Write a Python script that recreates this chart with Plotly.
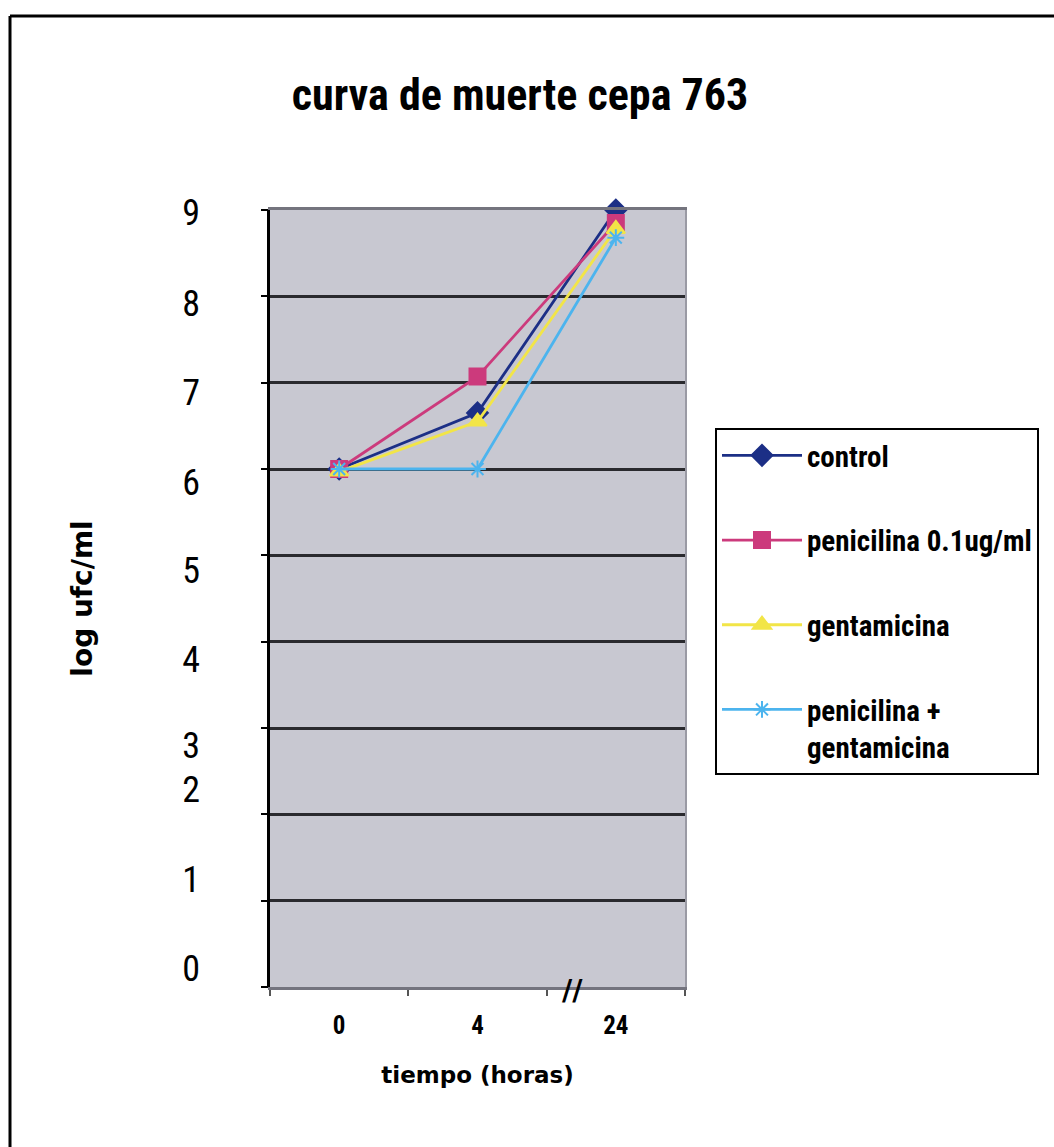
import plotly.graph_objects as go

# Sampling times (hours) and log10 CFU/ml counts for each treatment
tiempos = ["0", "4", "24"]
control = [6.0, 6.65, 9.0]
penicilina = [6.0, 7.07, 8.85]
gentamicina = [5.97, 6.55, 8.78]
pen_gent = [6.0, 6.0, 8.68]

series_names = ["control", "penicilina 0.1ug/ml", "gentamicina", "penicilina +<br>gentamicina"]

# Hand-set y tick label text and where each one sits along the axis
y_tick_text = ["9", "8", "7", "6", "5", "4", "3", "2", "1", "0"]
y_tick_pos = [8.97, 7.92, 6.89, 5.84, 4.83, 3.80, 2.80, 2.29, 1.25, 0.22]

W, H = 1054, 1147
NARROW = "Roboto Condensed, DejaVu Sans Condensed, Liberation Sans, sans-serif"

def px_x(v):
    return v / W

def px_y(v):
    return 1 - v / H

styles = [
    dict(color="#1c2f86", symbol="diamond", size=16),
    dict(color="#cc3a7c", symbol="square", size=16),
    dict(color="#f2e547", symbol="triangle-up", size=16),
    dict(color="#4cb4ee", symbol="asterisk-open", size=14),
]

fig = go.Figure()
for i, (name, vals, st) in enumerate(zip(series_names, [control, penicilina, gentamicina, pen_gent], styles)):
    fig.add_trace(go.Scatter(
        x=tiempos, y=vals, name=name, mode="lines+markers",
        legendgroup=f"g{i}", cliponaxis=False,
        line=dict(color=st["color"], width=2.8),
        marker=dict(symbol=st["symbol"], size=st["size"], color=st["color"],
                    line=dict(color=st["color"], width=2)),
    ))

# Invisible traces so the label axis and the black left axis line are laid out
fig.add_trace(go.Scatter(x=[tiempos[0]], y=[0], yaxis="y2", mode="markers",
                         marker=dict(opacity=0), showlegend=False, hoverinfo="skip"))
fig.add_trace(go.Scatter(x=[tiempos[0]], y=[0], yaxis="y3", mode="markers",
                         marker=dict(opacity=0), showlegend=False, hoverinfo="skip"))

fig.update_layout(
    width=W, height=H,
    margin=dict(l=0, r=0, t=0, b=0, autoexpand=False),
    paper_bgcolor="white",
    plot_bgcolor="#c8c8d1",
    title=dict(text="<b>curva de muerte cepa 763</b>", x=520 / W, xanchor="center",
               y=px_y(95), yanchor="middle",
               font=dict(family=NARROW, size=44, color="black")),
    xaxis=dict(
        domain=[px_x(270), px_x(685)], automargin=False,
        type="category", range=[-0.5, 2.5],
        showgrid=False, showline=True, linecolor="#74747e", linewidth=3, mirror=True,
        ticks="outside", tickson="boundaries", ticklen=6, tickwidth=2, tickcolor="#555",
        ticklabelstandoff=14,
        tickfont=dict(family=NARROW, size=25, color="black", weight="bold"),
        title=dict(text="<b>tiempo (horas)</b>", standoff=28,
                   font=dict(family="DejaVu Sans", size=23, color="black")),
    ),
    yaxis=dict(
        domain=[px_y(987), px_y(210)], automargin=False,
        range=[0, 9], tickvals=list(range(10)),
        showticklabels=False, zeroline=False,
        showgrid=True, gridcolor="#2a2a2e", gridwidth=3,
        showline=True, linecolor="#9a9aa4", linewidth=2, mirror=True,
        ticks="outside", ticklen=6, tickwidth=2, tickcolor="black",
    ),
    yaxis2=dict(
        overlaying="y", anchor="free", position=px_x(200), side="left", automargin=False,
        range=[0, 9], tickvals=y_tick_pos, ticktext=y_tick_text,
        showgrid=False, zeroline=False, showline=False, ticks="",
        tickfont=dict(family=NARROW, size=36, color="black"),
        title=dict(text="<b>log ufc/ml</b>", standoff=80,
                   font=dict(family="DejaVu Sans", size=28, color="black")),
    ),
    yaxis3=dict(
        overlaying="y", anchor="x", side="left", automargin=False,
        range=[0, 9], tickvals=list(range(10)), showticklabels=False,
        showgrid=False, zeroline=False,
        showline=True, linecolor="black", linewidth=3,
        ticks="outside", ticklen=6, tickwidth=2, tickcolor="black",
    ),
    legend=dict(
        x=px_x(715), xanchor="left", y=px_y(428), yanchor="top",
        bgcolor="white", bordercolor="black", borderwidth=2,
        font=dict(family=NARROW, size=29, color="black", weight="bold"),
        traceorder="grouped", tracegroupgap=44, valign="top",
        itemwidth=80,
    ),
    showlegend=True,
)

# Outer frame: top and left edges
fig.add_shape(type="line", xref="paper", yref="paper", x0=px_x(10), x1=1, y0=px_y(16), y1=px_y(16),
              line=dict(color="black", width=3))
fig.add_shape(type="line", xref="paper", yref="paper", x0=px_x(10), x1=px_x(10), y0=px_y(16), y1=0,
              line=dict(color="black", width=3))

# Axis break mark between 4 h and 24 h
fig.add_annotation(text="<b>//</b>", xref="paper", yref="paper", x=px_x(572), y=px_y(990),
                   yanchor="middle", showarrow=False,
                   font=dict(family="DejaVu Sans", size=28, color="black"))

fig.write_html("out.html")
